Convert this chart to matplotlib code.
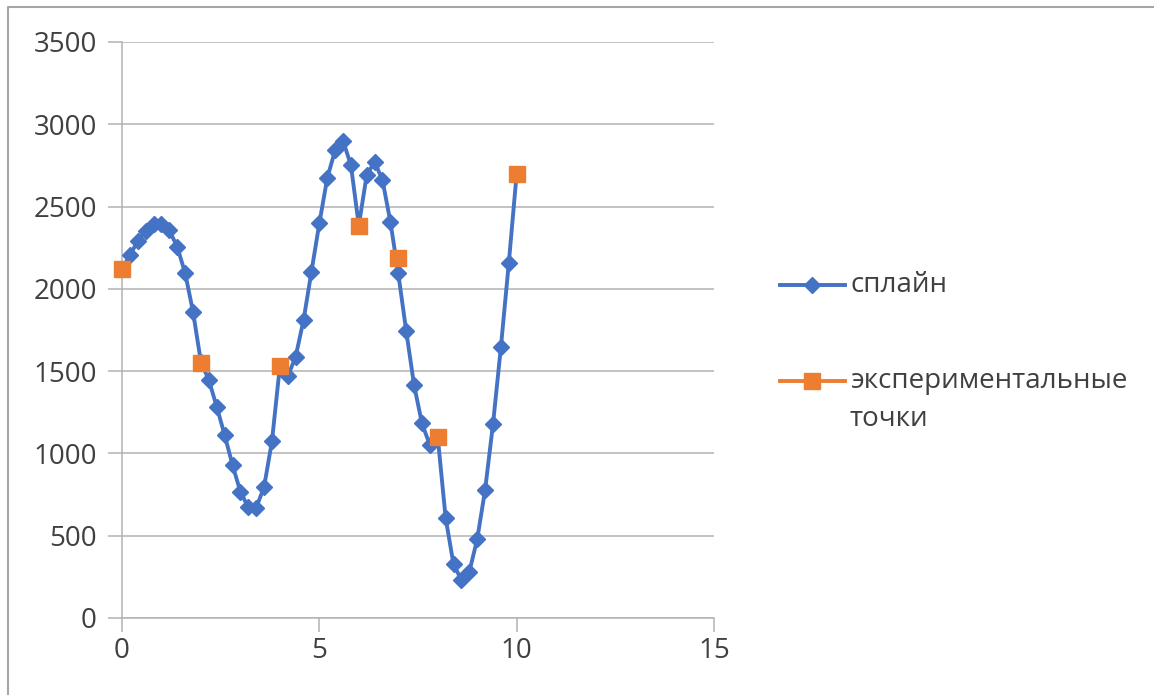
import matplotlib
matplotlib.use("Agg")
import matplotlib.pyplot as plt
from matplotlib.lines import Line2D

# spline data (x step 0.2)
spline_x = [round(0.2 * i, 1) for i in range(51)]
spline_y = [2120, 2205, 2290, 2352, 2395, 2395, 2355, 2255, 2096, 1860,
            1555, 1446, 1284, 1112, 930, 767, 672, 670, 796, 1075,
            1530, 1468, 1588, 1810, 2104, 2398, 2672, 2843, 2900, 2752,
            2385, 2691, 2772, 2661, 2408, 2094, 1746, 1416, 1183, 1051,
            1100, 608, 326, 231, 281, 478, 778, 1177, 1645, 2155, 2700]

exp_x = [0, 2, 4, 6, 7, 8, 10]
exp_y = [2120, 1550, 1530, 2382, 2187, 1101, 2700]

x_ticks = [0, 5, 10, 15]
y_ticks = [0, 500, 1000, 1500, 2000, 2500, 3000, 3500]

label_spline = "сплайн"
label_exp_lines = ["экспериментальные", "точки"]

BLUE = "#4472C4"
ORANGE = "#ED7D31"
GRID = "#b3b3b3"
TEXT = "#404040"
FONT = "Open Sans"

plt.rcParams['font.family'] = [FONT, 'DejaVu Sans']

W, H = 1154, 695
fig = plt.figure(figsize=(W / 100, H / 100), dpi=100)
ax = fig.add_axes([122 / W, 1 - 618 / H, (714 - 122) / W, (618 - 42) / H])

ax.plot(spline_x, spline_y, color=BLUE, lw=2.8, marker='D', ms=8,
        mfc=BLUE, mec=BLUE, zorder=3, clip_on=False)
ax.plot(exp_x, exp_y, ls='none', marker='s', ms=12, mfc=ORANGE, mec=ORANGE,
        zorder=4, clip_on=False)

ax.set_xlim(0, 15)
ax.set_ylim(0, 3500)
ax.set_xticks(x_ticks)
ax.set_yticks(y_ticks)
ax.set_xticklabels([str(v) for v in x_ticks])
ax.set_yticklabels([str(v) for v in y_ticks])
ax.grid(axis='y', color=GRID, lw=1.1)
ax.set_axisbelow(True)
for s in ['top', 'right']:
    ax.spines[s].set_visible(False)
for s in ['left', 'bottom']:
    ax.spines[s].set_color(GRID)
    ax.spines[s].set_linewidth(1.1)
ax.tick_params(axis='both', colors=GRID, length=10, width=1.1,
               labelsize=20, labelcolor=TEXT)
ax.tick_params(axis='y', pad=8)
ax.tick_params(axis='x', pad=4)


def fx(px):
    return px / W


def fy(py):
    return 1 - py / H


# legend (manual placement)
for y, col, mk, ms in [(285, BLUE, 'D', 8), (381, ORANGE, 's', 12)]:
    fig.add_artist(Line2D([fx(780), fx(845)], [fy(y), fy(y)], color=col, lw=2.8,
                          transform=fig.transFigure))
    fig.add_artist(Line2D([fx(812)], [fy(y)], marker=mk, ms=ms, color=col,
                          transform=fig.transFigure))
fig.text(fx(850), fy(285), label_spline, fontsize=20, color=TEXT,
         va='center', ha='left')
fig.text(fx(850), fy(381), label_exp_lines[0], fontsize=20, color=TEXT,
         va='center', ha='left')
fig.text(fx(850), fy(419), label_exp_lines[1], fontsize=20, color=TEXT,
         va='center', ha='left')

# chart outer border (left and top visible)
fig.add_artist(Line2D([fx(8), fx(8), fx(1160)], [fy(700), fy(7), fy(7)],
                      color='#a6a6a6', lw=1.5, transform=fig.transFigure))

fig.savefig("out.png", dpi=100)
